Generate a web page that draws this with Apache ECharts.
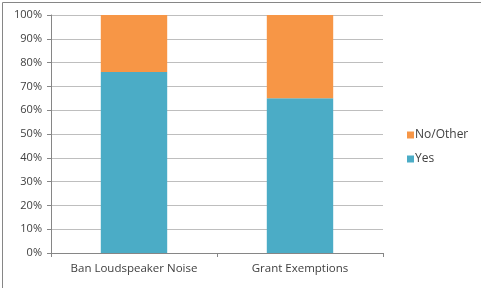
<!DOCTYPE html>
<html>
<head>
<meta charset="utf-8">
<script src="https://cdn.jsdelivr.net/npm/echarts@6/dist/echarts.min.js"></script>
<style>html,body{margin:0;padding:0;background:#fff;}#c{width:481px;height:288px;}</style>
</head>
<body>
<div id="c"></div>
<script>
var categories = ['Ban Loudspeaker Noise', 'Grant Exemptions'];
var yesValues = [0.76, 0.65];
var noOtherValues = [0.24, 0.35];
var yTicks = { min: 0, max: 1, interval: 0.1 };

var chart = echarts.init(document.getElementById('c'), null, { renderer: 'canvas' });
var font = 'Open Sans';
chart.setOption({
  animation: false,
  backgroundColor: '#fff',
  graphic: [{
    type: 'rect', left: 0, top: 0, z: -1,
    shape: { x: 0.5, y: 0.5, width: 480, height: 287 },
    style: { fill: 'none', stroke: '#868686', lineWidth: 1 }
  }],
  grid: { left: 51, right: 98, top: 15, bottom: 35, containLabel: false },
  legend: {
    orient: 'vertical', left: 402, top: 124,
    itemWidth: 7, itemHeight: 7, itemGap: 12,
    icon: 'rect',
    data: ['No/Other', 'Yes'],
    textStyle: { fontFamily: font, fontSize: 12, color: '#404040', padding: [0, 0, 0, -4] }
  },
  xAxis: {
    type: 'category', data: categories,
    axisLine: { lineStyle: { color: '#868686' } },
    axisTick: { show: true, alignWithLabel: false, length: 4, lineStyle: { color: '#868686' } },
    axisLabel: { fontFamily: font, fontSize: 11.5, color: '#404040', margin: 10 }
  },
  yAxis: {
    type: 'value', min: yTicks.min, max: yTicks.max, interval: yTicks.interval,
    axisLine: { show: true, lineStyle: { color: '#868686' } },
    axisTick: { show: true, length: 4, lineStyle: { color: '#868686' } },
    splitLine: { lineStyle: { color: '#BEBEBE' } },
    axisLabel: { fontFamily: font, fontSize: 11, color: '#404040', margin: 9,
      formatter: function (v) { return Math.round(v * 100) + '%'; } }
  },
  series: [
    { name: 'Yes', type: 'bar', stack: 's', data: yesValues, barWidth: '40%',
      itemStyle: { color: '#4BACC6' } },
    { name: 'No/Other', type: 'bar', stack: 's', data: noOtherValues, barWidth: '40%',
      itemStyle: { color: '#F79646' } }
  ]
});
</script>
</body>
</html>
